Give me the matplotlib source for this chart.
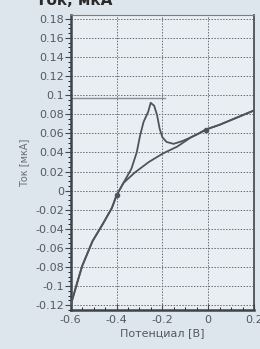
import matplotlib.pyplot as plt
from matplotlib.ticker import MultipleLocator, FuncFormatter

# common start of both scans (-0.6 .. -0.37 V)
x_start = [-0.6, -0.57, -0.55, -0.505, -0.46, -0.42, -0.40, -0.37]
y_start = [-0.120, -0.095, -0.079, -0.053, -0.035, -0.018, -0.005, 0.008]

# branch with the peak
x_peak = [-0.335, -0.312, -0.297, -0.282, -0.262, -0.251, -0.236, -0.223,
          -0.212, -0.2, -0.182, -0.151, -0.112, -0.074]
y_peak = [0.023, 0.040, 0.058, 0.072, 0.0825, 0.092, 0.089, 0.079,
          0.065, 0.056, 0.051, 0.049, 0.052, 0.056]

# branch without the peak
x_flat = [-0.32, -0.259, -0.197, -0.136, -0.074]
y_flat = [0.019, 0.030, 0.039, 0.046, 0.056]

# common end (-0.04 .. 0.2 V)
x_end = [-0.04, -0.01, 0.05, 0.1, 0.15, 0.2]
y_end = [0.060, 0.064, 0.069, 0.074, 0.079, 0.084]

# marker points and the reference level line
x_marks = [-0.4, -0.01]
y_marks = [-0.005, 0.064]
ref_level = 0.097
ref_x = [-0.6, -0.19]

bg = '#dde5ed'
line_col = '#4f535b'

fig = plt.figure(figsize=(2.6, 3.49), dpi=100, facecolor=bg)
ax = fig.add_axes([0.272, 0.112, 0.705, 0.845])
ax.set_facecolor('#e9eef3')

x1 = x_start + x_peak + x_end
y1 = y_start + y_peak + y_end
x2 = x_start + x_flat + x_end
y2 = y_start + y_flat + y_end
ax.plot(x1, y1, color=line_col, lw=1.3, zorder=3)
ax.plot(x2, y2, color=line_col, lw=1.3, zorder=3)
ax.plot(x_marks, y_marks, 'o', color=line_col, ms=3, zorder=4)
ax.plot(ref_x, [ref_level, ref_level], color='#8a8e94', lw=1.0, zorder=2)

ax.set_xlim(-0.6, 0.2)
ax.set_ylim(-0.125, 0.184)

ax.xaxis.set_major_locator(MultipleLocator(0.2))
ax.xaxis.set_minor_locator(MultipleLocator(0.05))
ax.yaxis.set_major_locator(MultipleLocator(0.02))
ax.yaxis.set_minor_locator(MultipleLocator(0.005))


def fmt(v, pos):
    s = f'{v:.2f}'.rstrip('0').rstrip('.')
    if s in ('-0', ''):
        s = '0'
    return s


ax.xaxis.set_major_formatter(FuncFormatter(fmt))
ax.yaxis.set_major_formatter(FuncFormatter(fmt))

ax.grid(True, which='major', color='#6a6e74', lw=0.7, linestyle=(0, (1.5, 1.5)))
ax.tick_params(axis='both', labelsize=8, labelcolor='#55595f', colors='#44484e')
ax.tick_params(axis='y', which='major', direction='out', length=4, pad=1)
ax.tick_params(axis='y', which='minor', direction='out', length=2)
ax.tick_params(axis='x', which='major', direction='in', length=4, pad=4)
ax.tick_params(axis='x', which='minor', direction='in', length=2)

for side in ('left', 'bottom'):
    ax.spines[side].set_linewidth(1.8)
    ax.spines[side].set_color('#3f434a')
ax.spines['right'].set_linewidth(1.2)
ax.spines['right'].set_color('#3f434a')
ax.spines['top'].set_linewidth(0.8)
ax.spines['top'].set_color('#7a7e84')

ax.set_xlabel('Потенциал [B]', fontsize=8, color='#55595f', labelpad=2)
ax.set_ylabel('Ток [мкА]', fontsize=7, color='#6a6e74', labelpad=4)

# title cut by the top edge
fig.text(0.285, 0.986, 'Ток, мкА', fontsize=11, fontweight='bold',
         color='#2a2a2a', ha='center', va='baseline')

fig.savefig('out.png', dpi=100, facecolor=bg)
